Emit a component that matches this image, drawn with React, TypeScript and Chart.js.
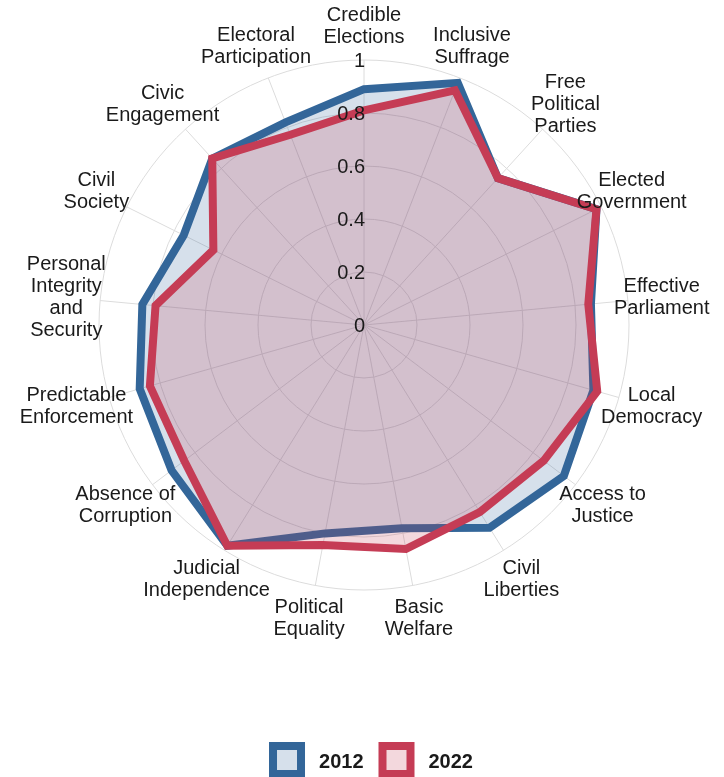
import React, { useEffect, useRef } from "react";
import { Chart, registerables } from "chart.js";

Chart.register(...registerables);

// ---- data ----
const categories: string[][] = [
  ["Credible", "Elections"],
  ["Inclusive", "Suffrage"],
  ["Free", "Political", "Parties"],
  ["Elected", "Government"],
  ["Effective", "Parliament"],
  ["Local", "Democracy"],
  ["Access to", "Justice"],
  ["Civil", "Liberties"],
  ["Basic", "Welfare"],
  ["Political", "Equality"],
  ["Judicial", "Independence"],
  ["Absence of", "Corruption"],
  ["Predictable", "Enforcement"],
  ["Personal", "Integrity", "and", "Security"],
  ["Civil", "Society"],
  ["Civic", "Engagement"],
  ["Electoral", "Participation"],
];
const values2012 = [0.89, 0.98, 0.75, 0.98, 0.86, 0.9, 0.945, 0.9, 0.78, 0.8, 0.98, 0.91, 0.88, 0.84, 0.76, 0.85, 0.82];
const values2022 = [0.81, 0.95, 0.75, 0.98, 0.85, 0.915, 0.85, 0.83, 0.86, 0.845, 0.98, 0.85, 0.84, 0.79, 0.635, 0.85, 0.77];
const tickValues = [0, 0.2, 0.4, 0.6, 0.8, 1];
const seriesLabels = ["2012", "2022"];

const BLUE = "#336699";
const BLUE_FILL = "rgba(51,102,153,0.2)";
const RED = "#c53c55";
const RED_FILL = "rgba(197,60,85,0.2)";
const FONT_FAMILY = '"Liberation Sans", Arial, sans-serif';
const TEXT = "#1a1a1a";

const labelPlugin = {
  id: "customLabels",
  afterDatasetsDraw(chart: any) {
    const scale = chart.scales.r;
    const ctx = chart.ctx as CanvasRenderingContext2D;
    ctx.save();
    ctx.fillStyle = TEXT;
    ctx.font = `20px ${FONT_FAMILY}`;
    ctx.textBaseline = "middle";

    // tick labels
    ctx.textAlign = "right";
    tickValues.forEach((v) => {
      const d = scale.getDistanceFromCenterForValue(v);
      ctx.fillText(String(v), scale.xCenter + 1, scale.yCenter - d + 1);
    });

    // point labels, centred at a fixed distance outside the outer ring
    ctx.textAlign = "center";
    const labels = chart.data.labels as (string | string[])[];
    labels.forEach((lab, i) => {
      const p = scale.getPointPosition(i, scale.drawingArea + 34);
      const lines = Array.isArray(lab) ? lab : [lab];
      lines.forEach((ln, j) => {
        ctx.fillText(ln, p.x, p.y + (j - (lines.length - 1) / 2) * 22);
      });
    });

    // legend
    ctx.font = `bold 20px ${FONT_FAMILY}`;
    ctx.textAlign = "left";
    const boxOuter = 36;
    const bw = 8;
    const gap = 14;
    const itemGap = 15;
    const ds = chart.data.datasets;
    const widths = ds.map((d: any) => ctx.measureText(d.label).width);
    let total = 0;
    ds.forEach((_: any, i: number) => {
      total += boxOuter + gap + widths[i];
      if (i < ds.length - 1) total += itemGap;
    });
    let x = 371 - total / 2;
    const yMid = 760;
    ds.forEach((d: any, i: number) => {
      const bx = x + bw / 2;
      const by = yMid - boxOuter / 2 + bw / 2;
      const inner = boxOuter - bw;
      ctx.fillStyle = "#ffffff";
      ctx.fillRect(bx, by, inner, inner);
      ctx.fillStyle = d.backgroundColor;
      ctx.fillRect(bx, by, inner, inner);
      ctx.strokeStyle = d.borderColor;
      ctx.lineWidth = bw;
      ctx.lineJoin = "miter";
      ctx.strokeRect(bx, by, inner, inner);
      ctx.fillStyle = TEXT;
      ctx.fillText(d.label, x + boxOuter + gap, yMid + 2);
      x += boxOuter + gap + widths[i] + itemGap;
    });
    ctx.restore();
  },
};

export default function App() {
  const ref = useRef<HTMLCanvasElement | null>(null);

  useEffect(() => {
    if (!ref.current) return;
    const chart = new Chart(ref.current, {
      type: "radar",
      data: {
        labels: categories,
        datasets: [
          {
            label: seriesLabels[0],
            data: values2012,
            borderColor: BLUE,
            backgroundColor: BLUE_FILL,
            borderWidth: 8,
            borderJoinStyle: "miter",
            pointRadius: 0,
            pointHoverRadius: 0,
            fill: true,
            tension: 0,
            order: 2,
          },
          {
            label: seriesLabels[1],
            data: values2022,
            borderColor: RED,
            backgroundColor: RED_FILL,
            borderWidth: 8,
            borderJoinStyle: "miter",
            pointRadius: 0,
            pointHoverRadius: 0,
            fill: true,
            tension: 0,
            order: 1,
          },
        ],
      },
      options: {
        animation: false,
        responsive: false,
        devicePixelRatio: 1,
        layout: { padding: { left: 99, top: 60, right: 95, bottom: 187 } },
        scales: {
          r: {
            min: 0,
            max: 1,
            ticks: { display: false, stepSize: 0.2 },
            grid: { color: "#dcdcdc", lineWidth: 1, circular: true },
            angleLines: { color: "#dcdcdc", lineWidth: 1 },
            pointLabels: { display: false },
          },
        },
        plugins: {
          legend: { display: false },
          tooltip: { enabled: false },
        },
      } as any,
      plugins: [labelPlugin],
    });
    return () => chart.destroy();
  }, []);

  return (
    <div style={{ position: "fixed", left: 0, top: 0, width: 724, height: 777, background: "#fff" }}>
      <canvas ref={ref} width={724} height={777} style={{ display: "block" }} />
    </div>
  );
}
